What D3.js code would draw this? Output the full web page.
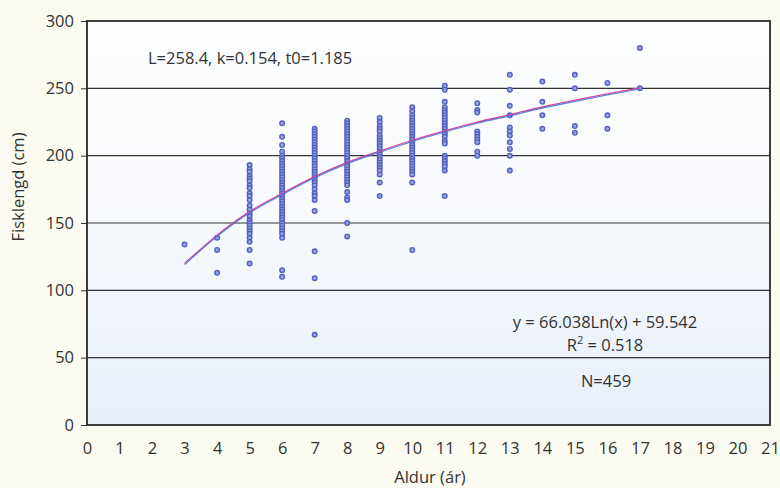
<!DOCTYPE html>
<head>
  <meta charset="utf-8">
  <script src="https://cdn.jsdelivr.net/npm/d3@7"></script>
  <style>
    body {
      margin: 0;
      background-color: #fcfbf1;
    }
    text {
      font-family: "Open Sans", "Noto Sans", sans-serif;
      fill: #333;
    }
  </style>
</head>
<body>
  <script>
    // Age (years) -> fish length readings (cm)
    var ages = [3, 4, 5, 6, 7, 8, 9, 10, 11, 12, 13, 14, 15, 16, 17];
    var lengths = [
      [134],
      [139, 130, 113],
      [193, 190, 188, 185, 183, 181, 178, 176, 172, 170, 167, 163, 160, 157, 155, 152, 150, 148, 146, 144, 142, 139, 136, 130, 120],
      [224, 214, 208, 203, 200, 198, 196, 194, 192, 190, 188, 186, 184, 182, 180, 178, 176, 174, 172, 170, 168, 166, 164, 162, 160, 158, 156, 154, 152, 150, 148, 146, 144, 142, 139, 115, 110],
      [220, 218, 216, 214, 212, 210, 208, 206, 204, 202, 200, 198, 196, 194, 192, 190, 188, 186, 184, 182, 180, 178, 175, 172, 170, 167, 159, 129, 109, 67],
      [226, 224, 222, 220, 218, 216, 214, 212, 210, 208, 206, 204, 202, 200, 198, 196, 194, 192, 190, 188, 186, 184, 182, 180, 178, 173, 169, 167, 150, 140],
      [228, 225, 222, 220, 218, 215, 213, 211, 209, 207, 205, 203, 201, 199, 197, 195, 193, 191, 189, 186, 180, 170],
      [236, 233, 230, 228, 226, 224, 222, 220, 218, 216, 214, 212, 210, 208, 206, 204, 202, 200, 198, 196, 194, 192, 190, 188, 186, 180, 130],
      [252, 249, 240, 236, 234, 232, 230, 228, 226, 224, 222, 220, 218, 216, 214, 211, 209, 200, 198, 196, 194, 192, 189, 170],
      [239, 234, 232, 218, 216, 214, 212, 210, 203, 200],
      [260, 249, 237, 230, 221, 218, 215, 210, 205, 200, 189],
      [255, 240, 230, 220],
      [260, 250, 222, 217],
      [254, 230, 220],
      [280, 250]
    ];

    // growth curve
    var curveAges = [3, 4, 5, 6, 7, 8, 9, 10, 11, 12, 13, 14, 15, 16, 17];
    var curveValues = [119.5, 140.5, 158, 171.5, 184, 194.5, 203, 211, 218, 224.5, 230, 235.7, 240.8, 245.5, 250];

    var xTicks = d3.range(0, 22);
    var yTicks = [0, 50, 100, 150, 200, 250, 300];

    // Layout
    var width = 780, height = 488;
    var plot = { left: 87, right: 770, top: 21, bottom: 425 };
    var fontSize = "16.5px";

    var svg = d3.select("body").append("svg")
      .attr("width", width)
      .attr("height", height);

    var x = d3.scaleLinear().domain([0, 21]).range([plot.left, plot.right]);
    var y = d3.scaleLinear().domain([0, 300]).range([plot.bottom, plot.top]);

    var defs = svg.append("defs");
    var grad = defs.append("linearGradient")
      .attr("id", "bg").attr("x1", 0).attr("y1", 0).attr("x2", 0).attr("y2", 1);
    grad.append("stop").attr("offset", "0%").attr("stop-color", "#fdfefe");
    grad.append("stop").attr("offset", "45%").attr("stop-color", "#f8fafd");
    grad.append("stop").attr("offset", "100%").attr("stop-color", "#e8eff9");

    svg.append("rect")
      .attr("x", plot.left).attr("y", plot.top)
      .attr("width", plot.right - plot.left)
      .attr("height", plot.bottom - plot.top)
      .attr("fill", "url(#bg)");

    // gridlines
    svg.append("g").selectAll("line")
      .data(yTicks.filter(function(d) { return d > 0 && d < 300; }))
      .enter().append("line")
      .attr("x1", plot.left).attr("x2", plot.right)
      .attr("y1", function(d) { return y(d); })
      .attr("y2", function(d) { return y(d); })
      .attr("stroke", "#333")
      .attr("stroke-width", 1.2);

    // axes
    var yAxis = svg.append("g")
      .attr("transform", "translate(" + plot.left + ",0)")
      .call(d3.axisLeft(y).tickValues(yTicks).tickSize(6).tickPadding(7));
    var xAxis = svg.append("g")
      .attr("transform", "translate(0," + plot.bottom + ")")
      .call(d3.axisBottom(x).tickValues(xTicks).tickSize(0).tickPadding(17));

    [yAxis, xAxis].forEach(function(a) {
      a.select(".domain").remove();
      a.selectAll("line").attr("stroke", "#333");
      a.selectAll("text")
        .style("font-size", fontSize)
        .style("font-family", "'Open Sans', sans-serif")
        .attr("fill", "#333");
    });

    // frame
    svg.append("rect")
      .attr("x", plot.left).attr("y", plot.top)
      .attr("width", plot.right - plot.left)
      .attr("height", plot.bottom - plot.top)
      .attr("fill", "none")
      .attr("stroke", "#2a2a2a")
      .attr("stroke-width", 1.8);

    // points
    var points = [];
    ages.forEach(function(a, i) {
      lengths[i].forEach(function(v) { points.push({ age: a, len: v }); });
    });

    svg.append("g").selectAll("circle")
      .data(points)
      .enter().append("circle")
      .attr("cx", function(d) { return x(d.age); })
      .attr("cy", function(d) { return y(d.len); })
      .attr("r", 2.3)
      .attr("fill", "#97a5e4")
      .attr("stroke", "#5560c0")
      .attr("stroke-width", 1.4);

    // fitted curve, drawn twice for the pink/blue print look
    var line = d3.line()
      .x(function(d, i) { return x(curveAges[i]); })
      .y(function(d) { return y(d); })
      .curve(d3.curveMonotoneX);

    svg.append("path")
      .datum(curveValues)
      .attr("d", line)
      .attr("fill", "none")
      .attr("stroke", "#d4479a")
      .attr("stroke-width", 1.3)
      .attr("transform", "translate(0,-0.6)");
    svg.append("path")
      .datum(curveValues)
      .attr("d", line)
      .attr("fill", "none")
      .attr("stroke", "#3d6fd6")
      .attr("stroke-width", 1.2)
      .attr("opacity", 0.85)
      .attr("transform", "translate(0,0.6)");

    // annotations
    svg.append("text")
      .attr("x", 148).attr("y", 64)
      .style("font-size", fontSize)
      .text("L=258.4, k=0.154, t0=1.185");

    svg.append("text")
      .attr("x", 605).attr("y", 328)
      .attr("text-anchor", "middle")
      .style("font-size", fontSize)
      .text("y = 66.038Ln(x) + 59.542");

    var r2 = svg.append("text")
      .attr("x", 605).attr("y", 351)
      .attr("text-anchor", "middle")
      .style("font-size", fontSize);
    r2.append("tspan").text("R");
    r2.append("tspan").attr("dy", -7).style("font-size", "11px").text("2");
    r2.append("tspan").attr("dy", 7).text(" = 0.518");

    svg.append("text")
      .attr("x", 606).attr("y", 387)
      .attr("text-anchor", "middle")
      .style("font-size", fontSize)
      .text("N=459");

    // axis titles
    svg.append("text")
      .attr("x", 430)
      .attr("y", 483)
      .attr("text-anchor", "middle")
      .style("font-size", fontSize)
      .text("Aldur (ár)");

    svg.append("text")
      .attr("transform", "translate(24,187) rotate(-90)")
      .attr("text-anchor", "middle")
      .style("font-size", fontSize)
      .text("Fisklengd (cm)");
  </script>
</body>
